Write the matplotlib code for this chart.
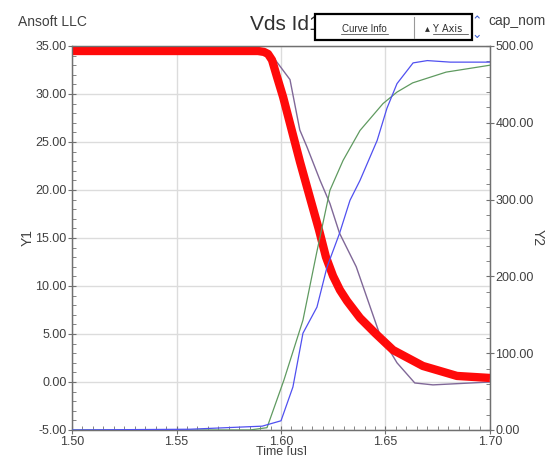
import matplotlib
matplotlib.use("Agg")
import matplotlib.pyplot as plt
from matplotlib.ticker import MultipleLocator, FormatStrFormatter
from matplotlib.patches import Rectangle

# Time axis (us) and traces
t_vds = [1.500, 1.589, 1.5919, 1.5938, 1.5957, 1.5981, 1.601, 1.6091, 1.6139, 1.6182,
         1.6215, 1.6249, 1.6282, 1.6316, 1.6378, 1.645, 1.6536, 1.6679, 1.6842, 1.700]
vds = [34.48, 34.48, 34.38, 34.17, 33.54, 31.77, 29.69, 22.92, 19.17, 15.83,
       13.02, 11.04, 9.58, 8.44, 6.67, 5.10, 3.33, 1.67, 0.63, 0.42]

t_vds2 = [1.500, 1.590, 1.5947, 1.6043, 1.609, 1.6124, 1.6187, 1.6234, 1.628, 1.636,
          1.647, 1.6555, 1.664, 1.6727, 1.700]
vds2 = [34.4, 34.4, 34.3, 31.5, 26.25, 24.5, 21.0, 18.6, 15.5, 12.0,
        5.1, 2.0, -0.1, -0.3, 0.0]

t_id = [1.500, 1.585, 1.5933, 1.6014, 1.6105, 1.617, 1.6234, 1.6297, 1.6378, 1.6488,
        1.6555, 1.663, 1.679, 1.700]
id1 = [0, 0, 3, 65, 143, 230, 312, 351, 390, 425, 440, 452, 466, 475]

t_cap = [1.500, 1.5565, 1.591, 1.600, 1.6057, 1.6105, 1.6172, 1.622, 1.628, 1.633,
         1.6378, 1.646, 1.6507, 1.6555, 1.6632, 1.670, 1.681, 1.700]
cap = [0, 1, 5, 12, 56, 126, 160, 212, 256, 299,
       325, 377, 419, 451, 478, 481, 479, 479]

y1_ticks = [-5, 0, 5, 10, 15, 20, 25, 30, 35]
y2_ticks = [0, 100, 200, 300, 400, 500]
x_ticks = [1.50, 1.55, 1.60, 1.65, 1.70]

plt.rcParams['font.family'] = ['Liberation Sans Narrow', 'Liberation Sans', 'DejaVu Sans']

fig = plt.figure(figsize=(5.51, 4.55), dpi=100)
fig.patch.set_facecolor('white')
ax = fig.add_axes([72/551, 1-430/455, 418/551, 384/455])
ax2 = ax.twinx()

txt = '#404040'
spine_c = '#707070'

ax.set_xlim(1.5, 1.7)
ax.set_ylim(-5, 35)
ax2.set_ylim(0, 500)

ax.set_xticks(x_ticks)
ax.set_yticks(y1_ticks)
ax2.set_yticks(y2_ticks)
ax.xaxis.set_minor_locator(MultipleLocator(0.005))
ax.yaxis.set_minor_locator(MultipleLocator(1))
ax2.yaxis.set_minor_locator(MultipleLocator(20))
ax.xaxis.set_major_formatter(FormatStrFormatter('%.2f'))
ax.yaxis.set_major_formatter(FormatStrFormatter('%.2f'))
ax2.yaxis.set_major_formatter(FormatStrFormatter('%.2f'))

ax.grid(True, which='major', color='#dcdcdc', linewidth=1.0)
ax.set_axisbelow(True)

for a in (ax, ax2):
    for s in a.spines.values():
        s.set_color(spine_c)
        s.set_linewidth(0.9)

ax.tick_params(axis='both', which='major', direction='inout', length=6, width=0.8,
               colors=spine_c, labelcolor=txt, labelsize=9, pad=1)
ax.tick_params(axis='both', which='minor', direction='in', length=3, width=0.6, colors=spine_c)
ax2.tick_params(axis='y', which='major', direction='inout', length=6, width=0.8,
                colors=spine_c, labelcolor=txt, labelsize=9, pad=1)
ax2.tick_params(axis='y', which='minor', direction='in', length=3, width=0.6, colors=spine_c)

ax.plot(t_vds2, vds2, color='#806898', linewidth=1.0, zorder=4)
ax.plot(t_vds, vds, color='#ff0a0a', linewidth=6.0, solid_capstyle='butt',
        solid_joinstyle='round', zorder=5)
ax2.plot(t_id, id1, color='#5f9a60', linewidth=0.9, zorder=3)
ax2.plot(t_cap, cap, color='#5050f0', linewidth=0.9, zorder=3)

ax.set_ylabel('Y1', color=txt, fontsize=10, labelpad=0)
ax2.set_ylabel('Y2', color=txt, fontsize=10, rotation=270, labelpad=8)
ax.set_xlabel('Time [us]', color=txt, fontsize=9, labelpad=-1)

fig.text(18/551, 1-22/455, 'Ansoft LLC', fontsize=10, color=txt, va='center', ha='left')
fig.text(250/551, 1-24/455, 'Vds Id1', fontsize=15, color='#303030', va='center', ha='left',
         family=['Liberation Sans', 'DejaVu Sans'])
fig.text(488/551, 1-21/455, 'cap_nom', fontsize=10, color=txt, va='center', ha='left')

# Curve Info / Y Axis control box
box = Rectangle((315/551, 1-40/455), 157/551, 26/455, transform=fig.transFigure,
                facecolor='white', edgecolor='black', linewidth=1.6, zorder=10)
fig.add_artist(box)
fig.add_artist(plt.Line2D([414/551, 414/551], [1-38/455, 1-17/455], transform=fig.transFigure,
                          color='#999999', linewidth=0.8, zorder=11))
fig.text(364/551, 1-29/455, 'Curve Info', fontsize=7, color='#303030', va='center', ha='center',
         zorder=12)
fig.add_artist(plt.Line2D([341/551, 388/551], [1-34/455, 1-34/455], transform=fig.transFigure,
                          color='#303030', linewidth=0.5, zorder=12))
fig.text(444/551, 1-29/455, '\u25b4 Y Axis', fontsize=7, color='#303030', va='center', ha='center',
         zorder=12, family=['DejaVu Sans'])
fig.add_artist(plt.Line2D([433/551, 468/551], [1-34/455, 1-34/455], transform=fig.transFigure,
                          color='#303030', linewidth=0.5, zorder=12))
fig.text(477/551, 1-22/455, '\u2303', fontsize=9, color='#4060d0', va='center', ha='center',
         family=['DejaVu Sans'])
fig.text(477/551, 1-34/455, '\u2304', fontsize=9, color='#4060d0', va='center', ha='center',
         family=['DejaVu Sans'])

fig.savefig('out.png', dpi=100, facecolor='white')
